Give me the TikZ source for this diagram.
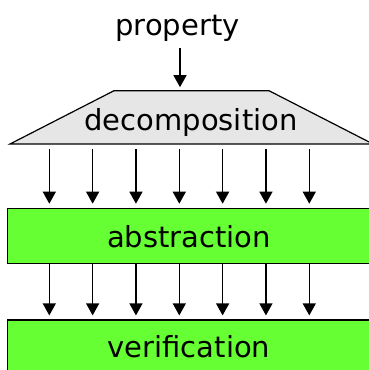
\documentclass[tikz,border=0pt]{standalone}
\usepackage{fontspec}
\setmainfont{DejaVu Sans}
\usetikzlibrary{arrows.meta}
\definecolor{boxgreen}{HTML}{66FF33}
\definecolor{trapgray}{HTML}{E6E6E6}
\tikzset{
  lbl/.style={font=\fontsize{29}{32}\selectfont, anchor=base, inner sep=0pt},
  stage/.style={draw=black, line width=1.2pt, fill=boxgreen, minimum width=365pt, minimum height=55pt, inner sep=0pt},
  flow/.style={-{Triangle[width=13pt,length=12pt]}, line width=1.2pt},
}
\begin{document}
\begin{tikzpicture}[x=1pt,y=-1pt]
\useasboundingbox (0,0) rectangle (369,370);
\clip (0,0) rectangle (369,370);

% input label
\node[lbl] (prop) at (177.5,35) {property};

% decomposition trapezoid
\draw[fill=trapgray, line width=1.2pt] (10,144) -- (114,90.7) -- (269,90.7) -- (373,144) -- cycle;
\node[lbl] (dec) at (191,130) {decomposition};
\coordinate (dectop) at (180,90.7);
\draw[flow] (180,48) -- ([yshift=3.5pt]dectop);

% stages
\node[stage] (abs) at (189.7,235.8) {};
\node[lbl] (abstxt) at (189,247) {abstraction};
\node[stage] (ver) at (189.7,347.5) {};
\node[lbl] (vertxt) at (189,357) {verification};

% parallel flows between the stages
\foreach \i in {0,...,6} {
  \coordinate (d\i) at ({49.3+43.33*\i},144);
  \draw[flow] ([yshift=-5pt]d\i) -- ([yshift=4pt]d\i |- abs.north);
  \draw[flow] (d\i |- abs.south) -- ([yshift=4pt]d\i |- ver.north);
}
\end{tikzpicture}
\end{document}
